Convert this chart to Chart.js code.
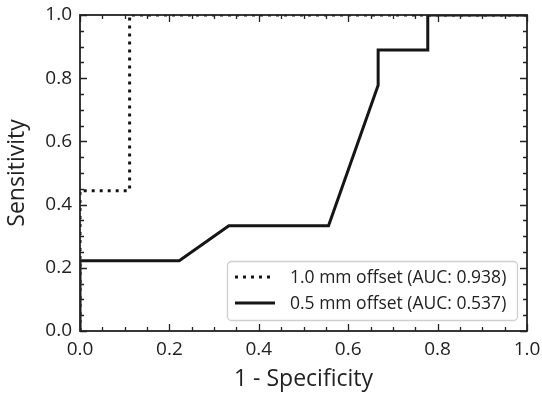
<!DOCTYPE html>
<html>
<head>
<meta charset="utf-8">
<script src="https://cdn.jsdelivr.net/npm/chart.js@4"></script>
<style>
  html, body { margin: 0; padding: 0; background: #fff; }
  #wrap { width: 542px; height: 395px; }
</style>
</head>
<body>
<div id="wrap"><canvas id="rocChart" width="542" height="395"></canvas></div>
<script>
// ROC points (x = 1 - specificity, y = sensitivity)
var offset10X = [0, 0, 0.111, 0.111, 1.0];
var offset10Y = [0, 0.444, 0.444, 1.0, 1.0];
var offset05X = [0, 0, 0.222, 0.333, 0.556, 0.667, 0.667, 0.778, 0.778, 1.0];
var offset05Y = [0, 0.222, 0.222, 0.333, 0.333, 0.778, 0.889, 0.889, 1.0, 1.0];
var seriesLabels = ["1.0 mm offset (AUC: 0.938)", "0.5 mm offset (AUC: 0.537)"];
var tickValues = [0.0, 0.2, 0.4, 0.6, 0.8, 1.0];

var ink = '#222';
var fontName = "'Open Sans', 'DejaVu Sans', sans-serif";

function toPoints(xs, ys) {
    var pts = [];
    for (var i = 0; i < xs.length; i++) pts.push({x: xs[i], y: ys[i]});
    return pts;
}

// frame + inward ticks on all four sides, matplotlib style
var frameTicks = {
    id: 'frameTicks',
    afterDraw: function (chart) {
        var ctx = chart.ctx, a = chart.chartArea;
        var xs = chart.scales.x, ys = chart.scales.y;
        ctx.save();
        ctx.strokeStyle = ink;
        ctx.lineWidth = 1.3;
        for (var i = 0; i <= 20; i++) {
            var v = i * 0.05;
            var len = (i % 4 === 0) ? 7 : 4;
            var px = Math.round(xs.getPixelForValue(v)) + 0.5;
            var py = Math.round(ys.getPixelForValue(v)) + 0.5;
            ctx.beginPath();
            ctx.moveTo(px, a.bottom); ctx.lineTo(px, a.bottom - len);
            ctx.moveTo(px, a.top); ctx.lineTo(px, a.top + len);
            ctx.moveTo(a.left, py); ctx.lineTo(a.left + len, py);
            ctx.moveTo(a.right, py); ctx.lineTo(a.right - len, py);
            ctx.stroke();
        }
        ctx.lineWidth = 1.8;
        ctx.strokeRect(a.left, a.top, a.right - a.left, a.bottom - a.top);
        ctx.restore();
    }
};

// legend box in the lower right corner of the plot
var innerLegend = {
    id: 'innerLegend',
    afterDraw: function (chart) {
        var ctx = chart.ctx, a = chart.chartArea;
        var w = 290, h = 59;
        var x0 = a.right - 10 - w, y0 = a.bottom - 11 - h;
        ctx.save();
        ctx.fillStyle = 'rgba(255,255,255,0.85)';
        ctx.strokeStyle = '#cfcfcf';
        ctx.lineWidth = 1.3;
        ctx.beginPath();
        ctx.roundRect(x0 + 0.5, y0 + 0.5, w, h, 4);
        ctx.fill();
        ctx.stroke();
        ctx.font = '17.5px ' + fontName;
        ctx.textBaseline = 'middle';
        chart.data.datasets.forEach(function (ds, i) {
            var cy = y0 + 16 + i * 26;
            ctx.strokeStyle = ds.borderColor;
            ctx.lineWidth = ds.borderWidth;
            ctx.setLineDash(ds.borderDash || []);
            ctx.beginPath();
            ctx.moveTo(x0 + 8, cy);
            ctx.lineTo(x0 + 48, cy);
            ctx.stroke();
            ctx.setLineDash([]);
            ctx.fillStyle = ink;
            ctx.fillText(ds.label, x0 + 63, cy + 1);
        });
        ctx.restore();
    }
};

function fixedTicks(s) {
    s.ticks = tickValues.map(function (v) { return {value: v}; });
}

var ctx = document.getElementById('rocChart');
var rocChart = new Chart(ctx, {
    type: 'scatter',
    data: {
        datasets: [
            {
                label: seriesLabels[0],
                data: toPoints(offset10X, offset10Y),
                showLine: true,
                borderColor: '#151515',
                borderWidth: 3,
                borderDash: [3, 5],
                pointRadius: 0,
                clip: 0
            },
            {
                label: seriesLabels[1],
                data: toPoints(offset05X, offset05Y),
                showLine: true,
                borderColor: '#151515',
                borderWidth: 3,
                pointRadius: 0,
                clip: 0
            }
        ]
    },
    options: {
        responsive: false,
        animation: false,
        layout: { padding: { left: 0, top: 15, right: 15, bottom: 0 } },
        plugins: { legend: { display: false }, tooltip: { enabled: false } },
        scales: {
            x: {
                type: 'linear', min: 0, max: 1,
                afterBuildTicks: fixedTicks,
                afterFit: function (s) { s.height = 64; s.paddingLeft = 0; s.paddingRight = 0; },
                grid: { display: false, drawTicks: false },
                border: { display: false },
                ticks: {
                    color: ink, padding: 7,
                    font: { family: fontName, size: 19 },
                    callback: function (v) { return v.toFixed(1); }
                },
                title: {
                    display: true, text: '1 - Specificity', color: ink,
                    font: { family: fontName, size: 23 }, padding: { top: 2, bottom: 2 }
                }
            },
            y: {
                type: 'linear', min: 0, max: 1,
                afterBuildTicks: fixedTicks,
                afterFit: function (s) { s.width = 80; s.paddingTop = 0; s.paddingBottom = 0; },
                grid: { display: false, drawTicks: false },
                border: { display: false },
                ticks: {
                    color: ink, padding: 8,
                    font: { family: fontName, size: 19 },
                    callback: function (v) { return v.toFixed(1); }
                },
                title: {
                    display: true, text: 'Sensitivity', color: ink,
                    font: { family: fontName, size: 23 }, padding: { top: 4, bottom: 0 }
                }
            }
        }
    },
    plugins: [frameTicks, innerLegend]
});
</script>
</body>
</html>
